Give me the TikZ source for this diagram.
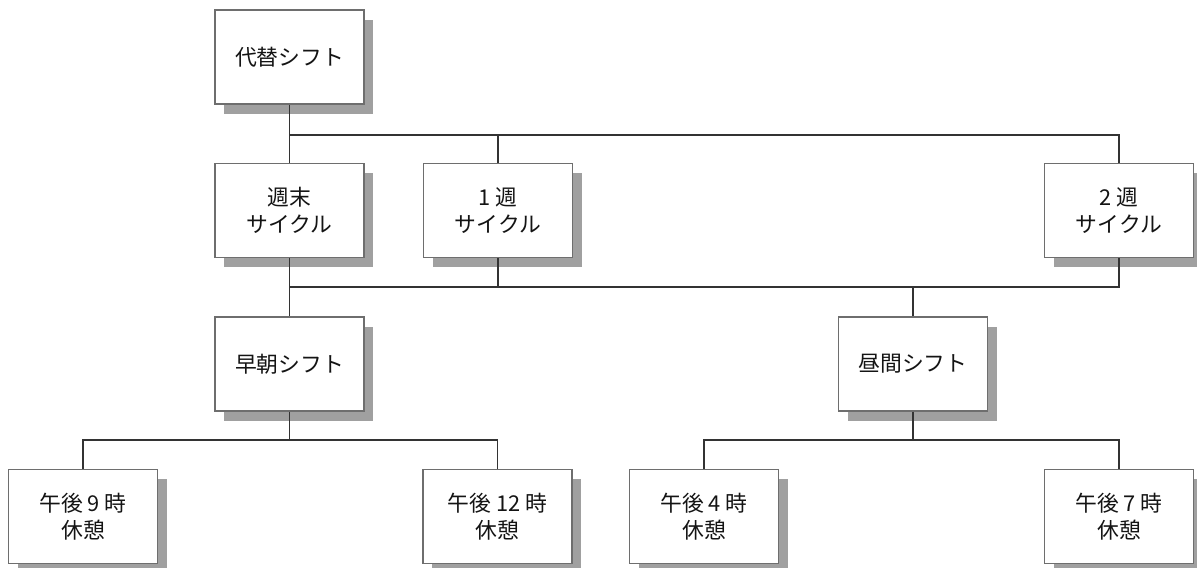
\documentclass[tikz,border=0pt]{standalone}
\usepackage{fontspec}
\setmainfont{Noto Sans CJK JP}
\usetikzlibrary{positioning,shadows}
\definecolor{Ink}{RGB}{20,20,20}
\definecolor{Edge}{RGB}{110,110,110}
\definecolor{Shade}{RGB}{160,160,160}

\begin{document}
\begin{tikzpicture}[x=0.025cm,y=-0.025cm,
    shiftbox/.style={rectangle,draw=Edge,fill=white,line width=0.9pt,minimum width=3.725cm,minimum height=2.35cm,inner sep=0pt,
      align=center,text=Ink,font=\fontsize{15.5}{19.5}\selectfont,
      drop shadow={shadow xshift=0.23cm,shadow yshift=-0.24cm,fill=Shade,opacity=1}},
    link/.style={draw=black!80,line width=0.75pt}
]
\useasboundingbox (0,0) rectangle (1197,567);

% Top
\node[shiftbox] (r-alt) at (289.5,57) {代替シフト};

% Cycles
\node[shiftbox] (c-wkend) at (289.5,210.5) {週末\\サイクル};
\node[shiftbox] (c-w1) at (498,210.5) {1 週\\サイクル};
\node[shiftbox] (c-w2) at (1119,210.5) {2 週\\サイクル};

% Shifts
\node[shiftbox] (s-early) at (289.5,364) {早朝シフト};
\node[shiftbox] (s-noon) at (913,364) {昼間シフト};

% Breaks
\node[shiftbox] (b-pm9) at (83,516.5) {午後 9 時\\休憩};
\node[shiftbox] (b-pm12) at (497.5,516.5) {午後 12 時\\休憩};
\node[shiftbox] (b-pm4) at (704,516.5) {午後 4 時\\休憩};
\node[shiftbox] (b-pm7) at (1119,516.5) {午後 7 時\\休憩};

% Buses
\coordinate (bus1) at (0,135);
\coordinate (bus2) at (0,287);
\coordinate (bus3) at (0,440);

\draw[link] (r-alt.south) -- (r-alt.south |- bus1) -| (c-w2.north);
\draw[link] (c-wkend.north) -- (c-wkend.north |- bus1);
\draw[link] (c-w1.north) -- (c-w1.north |- bus1);

\draw[link] (c-wkend.south) -- (s-early.north);
\draw[link] (c-wkend.south |- bus2) -| (c-w2.south);
\draw[link] (c-w1.south) -- (c-w1.south |- bus2);
\draw[link] (s-noon.north) -- (s-noon.north |- bus2);

\draw[link] (s-early.south) -- (s-early.south |- bus3);
\draw[link] (b-pm9.north) |- (s-early.south |- bus3) -| (b-pm12.north);
\draw[link] (s-noon.south) -- (s-noon.south |- bus3);
\draw[link] (b-pm4.north) |- (s-noon.south |- bus3) -| (b-pm7.north);

\end{tikzpicture}
\end{document}
